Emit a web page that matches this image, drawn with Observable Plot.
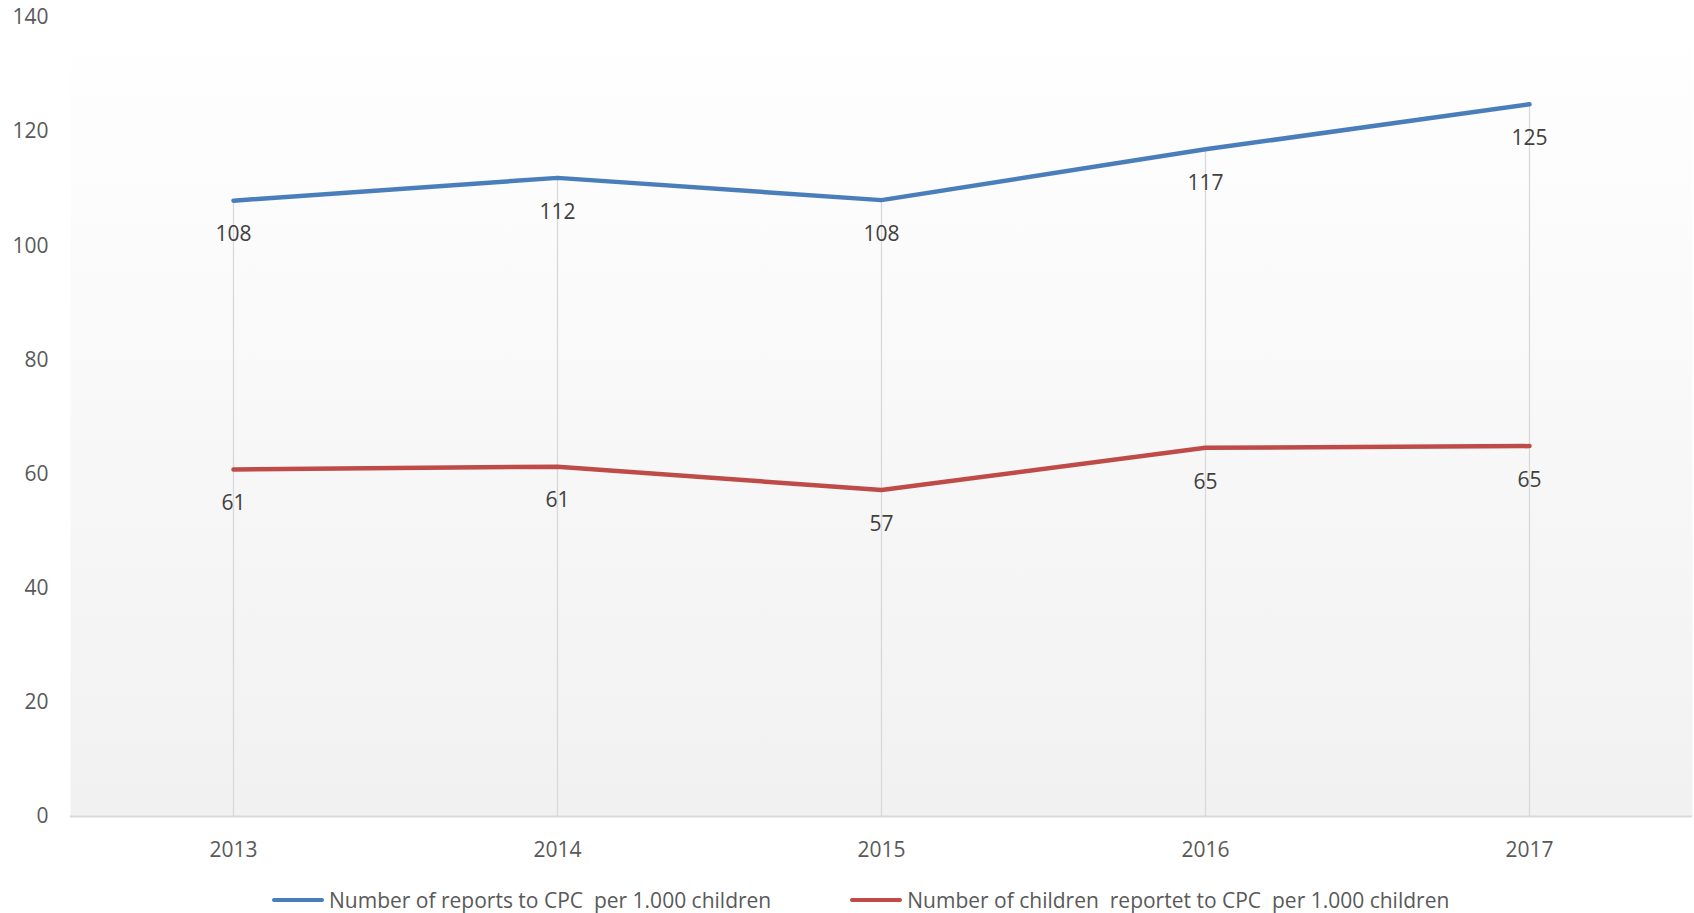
<!DOCTYPE html>
<html>
<head>
<meta charset="utf-8">
<script src="https://cdn.jsdelivr.net/npm/d3@7"></script>
<script src="https://cdn.jsdelivr.net/npm/@observablehq/plot@0.6"></script>
<style>
  html, body { margin: 0; padding: 0; background: #fff; }
  #wrap { position: relative; width: 1694px; height: 913px; font-family: "Open Sans", sans-serif; }
  #legend { position: absolute; left: 272px; top: 886px; display: flex; align-items: center; font-size: 21px; color: #595959; white-space: pre; }
  .item { display: flex; align-items: center; margin-right: 79px; }
  .sw { width: 52px; height: 4px; border-radius: 2px; margin-right: 5px; }
</style>
</head>
<body>
<div id="wrap"><div id="chart"></div><div id="legend"></div></div>
<script>
const years = ["2013", "2014", "2015", "2016", "2017"];
const reports = [107.9, 111.9, 108.0, 116.9, 124.8];
const children = [60.8, 61.3, 57.2, 64.6, 64.9];
const seriesNames = ["Number of reports to CPC  per 1.000 children", "Number of children  reportet to CPC  per 1.000 children"];
const seriesColors = ["#4a7ebb", "#be4b48"];
const yTicks = [0, 20, 40, 60, 80, 100, 120, 140];

const rows = [];
years.forEach((y, i) => {
  rows.push({year: y, value: reports[i], series: seriesNames[0]});
  rows.push({year: y, value: children[i], series: seriesNames[1]});
});
const drops = years.map((y, i) => ({year: y, top: Math.max(reports[i], children[i])}));

const chart = Plot.plot({
  width: 1694,
  height: 870,
  marginTop: 17,
  marginBottom: 54,
  marginLeft: 70,
  marginRight: 2,
  style: {fontFamily: "'Open Sans', sans-serif", fontSize: "21px", color: "#595959", background: "transparent"},
  x: {type: "point", domain: years, padding: 0.5, label: null},
  y: {domain: [0, 140], ticks: yTicks, label: null},
  color: {domain: seriesNames, range: seriesColors},
  marks: [
    Plot.frame({fill: "url(#plotGrad)", stroke: null}),
    Plot.ruleX(drops, {x: "year", y1: 0, y2: "top", stroke: "#d9d9d9", strokeWidth: 1.3}),
    Plot.ruleY([0], {stroke: "#d9d9d9", strokeWidth: 2}),
    Plot.axisY({ticks: yTicks, tickSize: 0, tickPadding: 22, fill: "#595959", fontSize: 21}),
    Plot.axisX({tickSize: 0, tickPadding: 26, fill: "#595959", fontSize: 21}),
    Plot.line(rows, {x: "year", y: "value", z: "series", stroke: "series", strokeWidth: 4.5, strokeLinecap: "round", strokeLinejoin: "round"}),
    Plot.text(rows, {x: "year", y: "value", text: d => Math.round(d.value), dy: 34, fill: "#404040", fontSize: 21})
  ]
});

const defs = d3.select(chart).insert("defs", ":first-child");
const g = defs.append("linearGradient").attr("id", "plotGrad").attr("x1", 0).attr("y1", 0).attr("x2", 0).attr("y2", 1);
g.append("stop").attr("offset", "0%").attr("stop-color", "#ffffff");
g.append("stop").attr("offset", "100%").attr("stop-color", "#f1f1f1");

document.getElementById("chart").appendChild(chart);

const legend = d3.select("#legend");
seriesNames.forEach((name, i) => {
  const item = legend.append("div").attr("class", "item");
  item.append("div").attr("class", "sw").style("background", seriesColors[i]);
  item.append("span").text(name);
});
</script>
</body>
</html>
